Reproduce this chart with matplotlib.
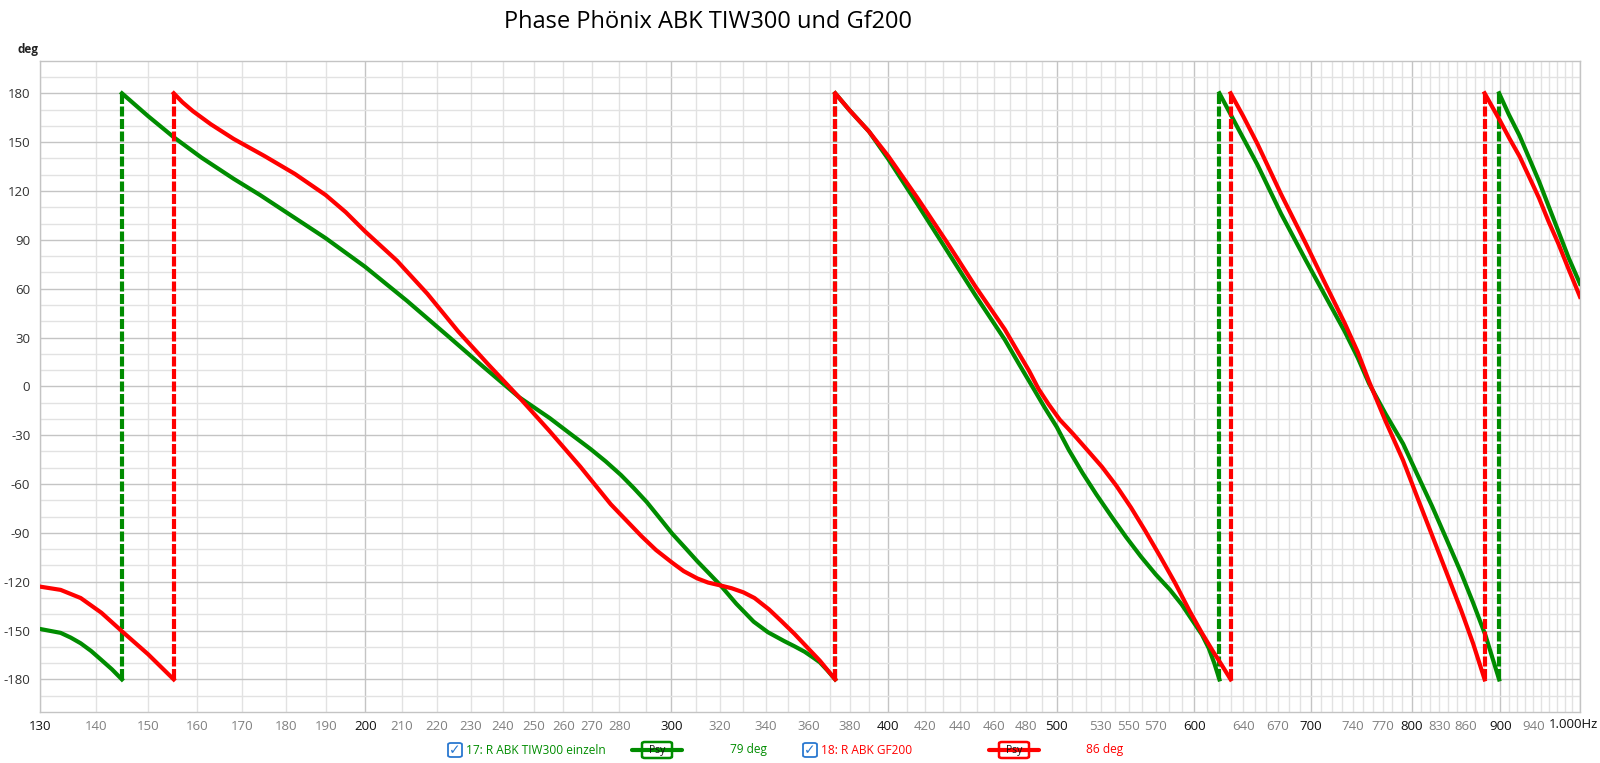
import matplotlib.pyplot as plt
from matplotlib.ticker import FixedLocator, NullLocator
from matplotlib.patches import FancyBboxPatch

plt.rcParams['font.family'] = ['Open Sans', 'DejaVu Sans']

# ---- data (Hz, deg) ----
green_freq = [130, 133.6, 135.4, 137.2, 139.1, 141, 143, 144.9,
              144.9, 150, 155.2, 161, 168, 174, 179.8, 189.8, 200, 211.4,
              223.4, 233.9, 245.2, 255.4, 262, 269.6, 275, 280.7, 285.5, 290.4, 295,
              300.3, 305.5, 310.6, 315.5, 320.3, 327, 334.6, 341, 348.5, 353, 358,
              362, 365.3, 369, 372.8,
              372.8, 380, 389.8, 400, 415.7, 432.1, 449.1, 466.7, 476, 485.2, 492,
              500, 508, 517.4, 527, 537.7, 548, 558.9, 570, 580.8, 590, 599.8, 606,
              611.5, 616, 620.2,
              620.2, 636, 652.2, 673, 695.5, 714, 732.1, 745, 756.1, 773, 791.1, 806,
              822.1, 838, 854.4, 868, 882.4, 890, 898.4,
              898.4, 910, 923.0, 935, 947.1, 959, 971.8, 985, 1000]
green_phase = [-149, -151.4, -154.3, -157.8, -162.5, -168, -173.8, -180,
               180, 166, 153, 140.5, 127.5, 117.5, 107.5, 91, 73.4, 52.5,
               30.5, 12, -6.6, -19.5, -28.5, -38.5, -46, -54.5, -62.5, -71, -80,
               -90.3, -99, -107.5, -115, -122.3, -133.5, -144.5, -151, -156.5, -159.5, -163,
               -166.5, -169.5, -174.5, -180,
               180, 169.5, 156.6, 139.5, 111.9, 83.7, 55.6, 28.7, 13, -2, -13,
               -25, -39, -53.3, -66.5, -80.1, -92.5, -104.5, -115.5, -124.9, -134, -145.4, -152.5,
               -160.8, -170, -180,
               180, 158, 136.2, 106, 77.3, 55, 33.8, 17.5, 1.8, -17, -35.3, -54,
               -73.7, -94, -114.7, -133, -153.1, -166, -180,
               180, 167, 154, 140, 126, 111, 95.2, 79, 63]

red_freq = [130, 133.6, 137.2, 141, 144.9, 150, 155.2,
            155.2, 157, 159.2, 163, 168, 175, 182.2, 189.8,
            194.9, 200, 208.6, 217.2, 226.2, 235.5, 245.2, 255.4, 266, 276.9, 288.4,
            294, 300.3, 305, 310.6, 315, 320.3, 325, 330.1, 335, 341.5, 347, 353.2,
            359, 365.3, 372.8,
            372.8, 380, 389.8, 400, 415.7, 432.1, 449.1, 466.7, 475, 482, 488, 494.6,
            502, 510.7, 520, 530.8, 541, 551.7, 562, 573.4, 585, 596, 606, 615.4,
            622, 629.5,
            629.5, 640, 652.2, 673, 695.5, 714, 732.1, 745, 756.1, 773, 791.1, 806,
            822.1, 838, 854.4, 868, 881.3,
            881.3, 899.6, 911, 923, 935, 947.1, 959, 971.8, 985, 1000]
red_phase = [-123, -125, -130, -139, -150.4, -164.5, -180,
             180, 174.5, 169, 161, 152, 141.5, 130.5, 117.5,
             107, 95.1, 77.2, 56.8, 33.8, 13.3, -6.6, -27.6, -49.4, -72.4, -92,
             -100.5, -108.2, -113.5, -118, -120.5, -122.3, -124, -126.5, -130, -137, -144, -152,
             -160, -168.5, -180,
             180, 169.5, 156.6, 141.3, 115.7, 88.8, 61, 35, 21, 9.5, -1.5, -11,
             -20.5, -29, -38.5, -49.4, -61, -74.5, -88.5, -104.5, -121, -137.7, -151.5, -163.3,
             -171, -180,
             180, 166, 149, 118, 87.6, 62.5, 38.9, 21, 3.1, -21.5, -45.5, -68,
             -91.6, -114.5, -137.7, -158, -180,
             180, 163, 152, 141.3, 128.5, 115.7, 101.5, 87.6, 72, 55]

tick_freqs = [130, 140, 150, 160, 170, 180, 190, 200, 210, 220, 230, 240, 250, 260,
              270, 280, 300, 320, 340, 360, 380, 400, 420, 440, 460, 480, 500, 530,
              550, 570, 600, 640, 670, 700, 740, 770, 800, 830, 860, 900, 940, 1000]
bold_freqs = [130, 200, 300, 400, 500, 600, 700, 800, 900, 1000]
y_ticks = [-180, -150, -120, -90, -60, -30, 0, 30, 60, 90, 120, 150, 180]

GREEN = '#008c00'
RED = '#ff0000'
W, H = 1600, 763


def split_wraps(freq, phase):
    # cut the series where the phase jumps from -180 to +180
    segs, wraps = [], []
    start = 0
    for i in range(1, len(freq)):
        if abs(phase[i] - phase[i - 1]) > 180:
            segs.append((freq[start:i], phase[start:i]))
            wraps.append(freq[i])
            start = i
    segs.append((freq[start:], phase[start:]))
    return segs, wraps


fig = plt.figure(figsize=(W / 100, H / 100), dpi=100)
ax = fig.add_axes([40 / W, 1 - 712 / H, 1540 / W, (712 - 60.7) / H])
ax.set_xscale('log')
ax.set_xlim(130, 1000)
ax.set_ylim(-200, 200)

# grid
for f in range(130, 1001, 10):
    major = f % 100 == 0
    ax.axvline(f, color='#c4c4c4' if major else '#e2e2e2', lw=1.0, zorder=0)
for d in range(-190, 200, 10):
    ax.axhline(d, color='#c4c4c4' if d % 30 == 0 else '#e2e2e2', lw=1.0, zorder=0)

for spine in ax.spines.values():
    spine.set_color('#c4c4c4')
    spine.set_linewidth(1.0)

# curves
for freq, phase, col in [(green_freq, green_phase, GREEN), (red_freq, red_phase, RED)]:
    segs, wraps = split_wraps(freq, phase)
    for fs, ps in segs:
        ax.plot(fs, ps, color=col, lw=3, solid_joinstyle='round', zorder=3)
    for f in wraps:
        ax.plot([f, f], [-180, 180], color=col, lw=3, dashes=(2.4, 0.6), zorder=3)

# ticks
ax.xaxis.set_major_locator(FixedLocator(tick_freqs))
ax.xaxis.set_minor_locator(NullLocator())
ax.set_xticklabels([('' if f == 1000 else str(f)) for f in tick_freqs])
ax.tick_params(axis='x', length=0, pad=6, labelsize=9.5)
for lab, f in zip(ax.get_xticklabels(), tick_freqs):
    lab.set_color('#111111' if f in bold_freqs else '#808080')
ax.set_yticks(y_ticks)
ax.set_yticklabels([str(v) for v in y_ticks])
ax.yaxis.set_minor_locator(NullLocator())
ax.tick_params(axis='y', length=0, pad=7, labelsize=9.5, labelcolor='#333333')

fig.text(1598 / W, 1 - 725 / H, '1.000Hz', ha='right', va='center', fontsize=9.5, color='#111111')
fig.text(28 / W, 1 - 50 / H, 'deg', ha='center', va='center', fontsize=8.5,
         fontweight='bold', color='#222222')
fig.text(708 / W, 1 - 22 / H, 'Phase Phönix ABK TIW300 und Gf200', ha='center',
         va='center', fontsize=17, color='#000000')


# legend row
def px_box(cx, cy, w, h, ec, fc='white', lw=1.3, r=3):
    p = FancyBboxPatch(((cx - w / 2) / W, 1 - (cy + h / 2) / H), w / W, h / H,
                       boxstyle='round,pad=0,rounding_size=%f' % (r / W),
                       transform=fig.transFigure, ec=ec, fc=fc, lw=lw)
    fig.patches.append(p)


def legend_item(cb_x, name, col, psy_x, value, val_x):
    ly = 750
    px_box(cb_x, ly, 14, 14, '#2a78d0')
    fig.text(cb_x / W, 1 - ly / H, '✓', ha='center', va='center', fontsize=10,
             color='#2a78d0', family='DejaVu Sans', fontweight='bold')
    fig.text((cb_x + 11) / W, 1 - ly / H, name, ha='left', va='center', fontsize=8.6, color=col)
    fig.add_artist(plt.Line2D([(psy_x - 25) / W, (psy_x + 25) / W], [1 - ly / H, 1 - ly / H],
                              color=col, lw=3, solid_capstyle='round', transform=fig.transFigure))
    px_box(psy_x, ly, 30, 16, col, lw=1.8)
    fig.text(psy_x / W, 1 - ly / H, 'Psy', ha='center', va='center', fontsize=7.5, color='#111111')
    fig.text(val_x / W, 1 - ly / H, value, ha='center', va='center', fontsize=8.6, color=col)


legend_item(455, '17: R ABK TIW300 einzeln', GREEN, 657, '79 deg', 748)
legend_item(810, '18: R ABK GF200', RED, 1014, '86 deg', 1105)

fig.savefig('out.png', dpi=100, facecolor='white')
